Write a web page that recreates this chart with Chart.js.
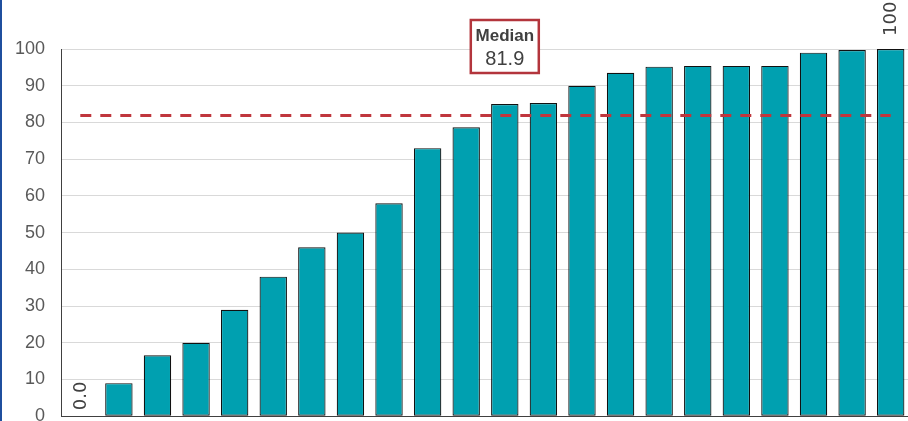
<!DOCTYPE html>
<html>
<head>
<meta charset="utf-8">
<script src="https://cdn.jsdelivr.net/npm/chart.js@4.4.1/dist/chart.umd.min.js"></script>
<style>
  html, body { margin: 0; padding: 0; background: #ffffff; overflow: hidden; }
  #wrap { position: relative; width: 912px; height: 421px; overflow: hidden; }
  #c { position: absolute; left: 0; top: 0; }
  #edge { position: absolute; left: 0; top: 0; width: 2px; height: 421px; background: #1f4f9e; z-index: 2; }
</style>
</head>
<body>
<div id="wrap">
  <canvas id="c" width="912" height="443"></canvas>
  <div id="edge"></div>
</div>
<script>
// ---- data ----
const categories = ["1","2","3","4","5","6","7","8","9","10","11","12","13","14","15","16","17","18","19","20","21","22"];
const values = [0.0, 9.0, 16.6, 20.0, 29.0, 38.0, 46.0, 50.0, 58.0, 73.0, 78.7, 85.0, 85.3, 90.0, 93.5, 95.2, 95.4, 95.4, 95.4, 99.0, 99.7, 100.0];
const medianValue = 81.9;
const medianLabel = ["Median", "81.9"];
const labelledIdx = [0, 21];
const yTicks = [0, 10, 20, 30, 40, 50, 60, 70, 80, 90, 100];

const medianLine = categories.map(() => medianValue);

const valueLabels = {
  id: 'valueLabels',
  afterDatasetsDraw(chart) {
    const ctx = chart.ctx;
    const meta = chart.getDatasetMeta(1);
    ctx.save();
    ctx.font = '18px "DejaVu Sans"';
    ctx.fillStyle = '#404040';
    ctx.textAlign = 'left';
    ctx.textBaseline = 'middle';
    labelledIdx.forEach(i => {
      const el = meta.data[i];
      const off = values[i] === 0 ? 6 : 13;
      ctx.save();
      ctx.translate(el.x, el.y - off);
      ctx.rotate(-Math.PI / 2);
      ctx.fillText(values[i].toFixed(1), 0, 1);
      ctx.restore();
    });
    ctx.restore();
  }
};

const medianBox = {
  id: 'medianBox',
  afterDraw(chart) {
    const ctx = chart.ctx;
    const meta = chart.getDatasetMeta(1);
    const upper = Math.floor(values.length / 2);
    const cx = meta.data[upper].x;
    const w = 68, h = 53;
    const bottom = chart.chartArea.top + 24;
    const top = bottom - h;
    ctx.save();
    ctx.fillStyle = '#ffffff';
    ctx.fillRect(cx - w / 2, top, w, h);
    ctx.strokeStyle = '#b3353c';
    ctx.lineWidth = 2.5;
    ctx.strokeRect(cx - w / 2, top, w, h);
    ctx.fillStyle = '#404040';
    ctx.textAlign = 'center';
    ctx.textBaseline = 'middle';
    ctx.font = 'bold 17px "Liberation Sans"';
    ctx.fillText(medianLabel[0], cx, top + 16);
    ctx.font = '20px "Liberation Sans"';
    ctx.fillText(medianLabel[1], cx, top + 39);
    ctx.restore();
  }
};

new Chart(document.getElementById('c'), {
  type: 'bar',
  data: {
    labels: categories,
    datasets: [
      {
        type: 'line',
        data: medianLine,
        borderColor: '#c0363d',
        borderWidth: 3,
        borderDash: [11, 9],
        pointRadius: 0,
        fill: false,
        order: 0
      },
      {
        type: 'bar',
        data: values,
        backgroundColor: '#00a0b0',
        borderColor: '#111111',
        borderWidth: 1.2,
        borderSkipped: false,
        barPercentage: 0.71,
        categoryPercentage: 1.0,
        order: 1
      }
    ]
  },
  options: {
    responsive: false,
    animation: false,
    devicePixelRatio: 1,
    layout: { padding: { top: 49, bottom: 5, left: 0, right: 2 } },
    plugins: { legend: { display: false }, tooltip: { enabled: false } },
    scales: {
      x: {
        afterFit(axis) { axis.height = 0; },
        grid: { display: false, drawTicks: false },
        border: { display: true, color: '#404040', width: 1 },
        ticks: { display: false }
      },
      y: {
        min: 0, max: 100,
        afterBuildTicks(axis) { axis.ticks = yTicks.map(v => ({ value: v })); },
        afterFit(axis) { axis.width = 61; },
        grid: { color: '#d9d9d9', lineWidth: 1, drawTicks: false },
        border: { display: true, color: '#404040', width: 1 },
        ticks: {
          color: '#595959',
          font: { family: '"Liberation Sans"', size: 18 },
          padding: 16
        }
      }
    }
  },
  plugins: [valueLabels, medianBox]
});
</script>
</body>
</html>
